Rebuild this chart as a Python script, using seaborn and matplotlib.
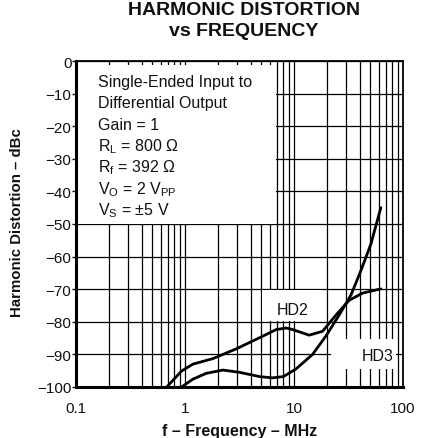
import numpy as np
import pandas as pd
import matplotlib
matplotlib.use('Agg')
import matplotlib.pyplot as plt
import seaborn as sns
from matplotlib.patches import Rectangle

# curve values (MHz, dBc)
HD2_FREQ = [0.68, 0.93, 1.18, 1.8, 2.95, 4.82, 6.85, 8.47, 9.73, 13.8, 18.3, 24.3, 32.1, 42.6, 62.6]
HD2_DBC = [-100.0, -95.1, -93.0, -91.3, -88.3, -84.9, -82.4, -81.9, -82.4, -84.1, -82.9, -77.9, -73.4, -71.2, -69.9]

HD3_FREQ = [0.93, 1.18, 1.57, 2.23, 3.16, 4.82, 6.3, 8.0, 10.4, 14.8, 19.6, 26.0, 33.3, 41.1, 50.7, 62.6]
HD3_DBC = [-100.0, -97.6, -95.8, -94.8, -95.5, -96.8, -97.2, -96.8, -94.5, -90.0, -84.4, -77.9, -71.8, -64.3, -56.2, -45.0]

Y_TICKS = [0, -10, -20, -30, -40, -50, -60, -70, -80, -90, -100]
X_TICKS = [0.1, 1, 10, 100]
X_TICKLABELS = ['0.1', '1', '10', '100']

CONDITIONS = [
    'Single-Ended Input to',
    'Differential Output',
    'Gain = 1',
    r'R$_{\mathrm{L}}$ = 800 Ω',
    r'R$_{\mathrm{f}}$ = 392 Ω',
    r'V$_{\mathrm{O}}$ = 2 V$_{\mathrm{PP}}$',
    r'V$_{\mathrm{S}}$ = ±5 V',
]

sns.set_theme(style='white')
plt.rcParams['font.family'] = ['Liberation Sans', 'DejaVu Sans']
plt.rcParams['mathtext.fontset'] = 'custom'
plt.rcParams['mathtext.rm'] = 'Liberation Sans'
plt.rcParams['mathtext.it'] = 'Liberation Sans:italic'
plt.rcParams['mathtext.bf'] = 'Liberation Sans:bold'

df = pd.concat([
    pd.DataFrame({'f': HD2_FREQ, 'dbc': HD2_DBC, 'curve': 'HD2'}),
    pd.DataFrame({'f': HD3_FREQ, 'dbc': HD3_DBC, 'curve': 'HD3'}),
], ignore_index=True)

W, H = 427, 439
fig = plt.figure(figsize=(W / 100, H / 100), dpi=100)
ax = fig.add_axes([76 / W, 1 - 388 / H, (403 - 76) / W, (388 - 62) / H])

ax.set_xscale('log')
ax.set_xlim(0.1, 100)
ax.set_ylim(-100, 0)
ax.set_axisbelow(True)
ax.grid(which='both', axis='x', color='black', lw=0.9)
ax.grid(which='major', axis='y', color='black', lw=0.9)

sns.lineplot(data=df, x='f', y='dbc', units='curve', estimator=None, sort=False,
             color='black', lw=2.0, ax=ax, zorder=4)

# white panels that hide the grid
ax.add_patch(Rectangle((0.1, -50), 6.9 - 0.1, 48.7, facecolor='white', edgecolor='none', zorder=1))
ax.add_patch(Rectangle((5.1, -79.7), 18.0 - 5.1, 9.4, facecolor='white', edgecolor='none', zorder=1))
ax.add_patch(Rectangle((22.0, -94.5), 86.5 - 22.0, 9.2, facecolor='white', edgecolor='none', zorder=1))

for i, line in enumerate(CONDITIONS):
    yb = 86.7 + i * 21.5
    ax.text((98 - 76) / 327, 1 - (yb - 62) / 326, line, transform=ax.transAxes,
            fontsize=11.5, va='baseline', ha='left', color='#111111', zorder=5)

ax.text(9.66, -76.1, 'HD2', fontsize=11.5, ha='center', va='center', color='#111111', zorder=5)
ax.text(58, -90.2, 'HD3', fontsize=11.5, ha='center', va='center', color='#111111', zorder=5)

ax.set_xticks(X_TICKS)
ax.set_xticklabels(X_TICKLABELS)
ax.set_yticks(Y_TICKS)
ax.set_yticklabels([f'{v}'.replace('-', '\u2212') for v in Y_TICKS])
ax.tick_params(axis='x', which='both', length=0, pad=10, labelsize=11, colors='#111111')
ax.tick_params(axis='y', length=3, width=1, pad=0.3, labelsize=11, colors='#111111', direction='out', left=True)

for side in ['left', 'bottom']:
    ax.spines[side].set_linewidth(2.2)
for side in ['top', 'right']:
    ax.spines[side].set_linewidth(1.3)
for sp in ax.spines.values():
    sp.set_color('black')
    sp.set_zorder(6)

ax.set_xlabel('')
ax.set_ylabel('')
fig.text(240 / W, 1 - 436.5 / H, 'f \u2013 Frequency \u2013 MHz', ha='center', va='baseline',
         fontsize=11.5, fontweight='bold', color='#111111')
fig.text(17 / W, 1 - 223 / H, 'Harmonic Distortion \u2013 dBc', ha='center', va='center',
         rotation=90, fontsize=10.8, fontweight='bold', color='#111111')

fig.text(244 / W, 1 - 15 / H, 'HARMONIC DISTORTION', ha='center', va='baseline',
         fontsize=14, fontweight='bold', color='#111111')
fig.text(244 / W, 1 - 36 / H, 'vs FREQUENCY', ha='center', va='baseline',
         fontsize=14, fontweight='bold', color='#111111')

fig.savefig('out.png', dpi=100)
